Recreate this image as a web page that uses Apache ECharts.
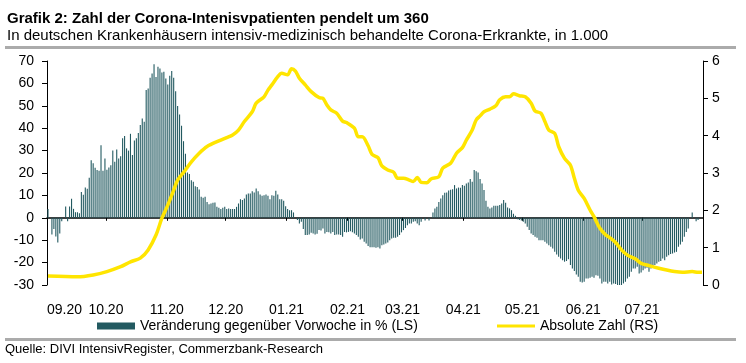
<!DOCTYPE html>
<html><head><meta charset="utf-8">
<script src="https://cdn.jsdelivr.net/npm/echarts@6/dist/echarts.min.js"></script>
<style>html,body{margin:0;padding:0;background:#fff}#c{width:746px;height:363px}</style>
</head><body><div id="c"></div>
<script>
const titleText = 'Grafik 2: Zahl der Corona-Intenisvpatienten pendelt um 360';
const subtitleText = 'In deutschen Krankenhäusern intensiv-medizinisch behandelte Corona-Erkrankte, in 1.000';
const sourceText = 'Quelle: DIVI IntensivRegister, Commerzbank-Research';
const barName = 'Veränderung gegenüber Vorwoche in % (LS)';
const lineName = 'Absolute Zahl (RS)';
const monthLabels = ['09.20','10.20','11.20','12.20','01.21','02.21','03.21','04.21','05.21','06.21','07.21'];
// daily values, first day = 01.09.2020
const barValues = [
3.9,0,-7.5,-5,-8.3,-11,-7,-1.5,0,5,
-1.5,5,8.5,4,2.5,2.5,2,11.5,10.3,13.5,
13,17.9,25.7,24.3,22.3,21.3,21,32.4,21,26.5,
21.5,22.5,23.5,30,25,30.5,26.5,27.5,35.5,36.5,
31,30,37.5,28,34.5,35.5,37.9,41.4,44.3,42.9,
57,57.7,62.5,64.4,68.5,62.9,67.4,66.7,64.9,65.2,
62.2,59.5,63.4,65.5,62.5,56.5,49.9,46.1,41.1,34.2,
28.6,20.2,19.6,16.8,16.1,14.1,13.8,12.6,9.4,8.9,
9.4,7.1,6.1,6.4,6.7,6.8,4.9,4.5,3.9,4.5,
4.9,3.9,4.2,3.9,3.9,3.9,4.9,6.4,8.3,7.9,
8.6,10.4,10.9,10.9,11.9,11.3,13.1,11.9,10.4,9.8,
10.1,10.4,9.8,8.3,10.1,9.8,12.1,10.4,8.3,8.3,
7.6,5.2,3.9,3.4,3.4,2.4,0,-1,-2.5,-1.8,
-5,-7.7,-7.7,-7.4,-6.7,-7,-7.4,-7.1,-5.4,-5.7,
-4.8,-7,-6.3,-6.5,-7,-6.3,-7.7,-7.4,-7.4,-7.7,
-8.5,-6.3,-6.5,-6.3,-6,-6.5,-7,-7.7,-8.5,-9.7,
-9.2,-10.7,-11.5,-12.6,-13.2,-13.2,-13.2,-13.4,-13.2,-13.7,
-12.2,-11.9,-11.5,-11,-10,-9.2,-8.9,-8.9,-8.5,-7.7,
-6.5,-5.5,-4.5,-3.3,-2.5,-2.5,-1.8,-1.5,-2.5,-3.3,
-1.8,0,-1.2,0,-1.2,0,2.4,4.2,4.9,7.1,
8.6,10.1,11.2,11.3,12.2,12.5,12.8,14.6,13.1,13.5,
13.4,14.6,14.3,15.3,15.8,17.3,16.1,21.3,20.8,20.2,
17.3,15.3,12.4,7.6,4.9,4.2,4.6,5.4,5.4,5.4,
5.7,6.4,7.9,6.7,4.6,4.2,3.4,1.8,0.9,-0.6,
-1,-1.2,-1.8,-2.5,-4,-5.5,-7,-7.7,-8.5,-8.9,
-10,-10,-10,-10.7,-11.5,-12.2,-12.9,-13.7,-15.2,-16.4,
-17.4,-18.2,-18.9,-19.6,-19.3,-18.5,-21.1,-22.6,-23.8,-25.3,
-26.3,-28.6,-28.9,-28.6,-27.1,-27.1,-26.8,-26.3,-26.8,-25.6,
-25.9,-27.1,-29.3,-28.6,-28.6,-29.3,-28.6,-29.8,-29.3,-29.5,
-30.1,-30.4,-30.8,-29.3,-28.6,-27.1,-26.3,-24.1,-22.6,-22.6,
-21.9,-24.9,-24.4,-23.4,-22.6,-22.3,-24.1,-22.6,-21.4,-21.1,
-20.4,-19.6,-19.3,-18.2,-18.9,-17.4,-16.7,-16.2,-15.9,-15.5,
-15.2,-12.9,-11.9,-10.7,-8.5,-6.3,-4.8,0,2.4,0,
-1.5,-1
];
// line: day index since 01.09.2020 and value in 1.000
const lineDays = [0,15,23,30,37,42,47,51,55,58,61,64,66,70,73,77,81,87,91,94,97,100,104,106,110,112,114,117,119,122,124,126,128,131,134,138,140,142,144,147,150,152,156,158,160,163,165,168,170,173,176,178,181,184,186,188,190,193,195,199,201,205,208,211,213,216,218,220,222,225,228,230,233,235,237,240,243,246,248,251,253,255,258,260,263,266,268,270,273,276,278,281,284,286,289,292,295,299,302,306,311,315,319,323,328,331,333];
const lineValues = [0.24,0.22,0.27,0.36,0.49,0.62,0.72,0.94,1.34,1.79,2.14,2.54,2.81,3.08,3.30,3.53,3.71,3.86,3.95,4.02,4.15,4.38,4.64,4.87,5.04,5.22,5.36,5.58,5.67,5.63,5.79,5.73,5.54,5.36,5.18,5.02,5.00,4.82,4.69,4.60,4.39,4.35,4.20,3.97,3.97,3.73,3.50,3.41,3.19,3.08,3.02,2.86,2.86,2.81,2.77,2.88,2.75,2.74,2.84,2.90,3.13,3.26,3.53,3.68,3.88,4.15,4.42,4.53,4.64,4.71,4.80,4.96,5.04,5.04,5.12,5.07,5.04,4.87,4.66,4.60,4.38,4.15,4.06,3.71,3.39,3.21,2.86,2.54,2.32,2.01,1.83,1.52,1.34,1.27,1.14,0.94,0.80,0.70,0.58,0.52,0.45,0.40,0.36,0.34,0.36,0.34,0.34];

const FONT = '"Liberation Sans", Arial, sans-serif';
const DAY = 86400000;
const origin = new Date(2020, 8, 1).getTime();
const monthStarts = monthLabels.map((_, k) => Math.round((new Date(2020, 8 + k, 1).getTime() - origin) / DAY));
const xMin = 0;
const xMax = Math.round((new Date(2021, 7, 1).getTime() - origin) / DAY);

const barData = barValues.map((v, i) => [i + 0.5, v]);
const lineData = lineDays.map((d, k) => [d + 0.5, lineValues[k]]);

const chart = echarts.init(document.getElementById('c'), null, {renderer: 'canvas'});
chart.setOption({
  animation: false,
  backgroundColor: '#fff',
  textStyle: {fontFamily: FONT},
  title: [
    {text: titleText, left: 7, top: 11, padding: 0, textStyle: {fontFamily: FONT, fontSize: 15, fontWeight: 'bold', color: '#000'}},
    {text: subtitleText, left: 7, top: 28, padding: 0, textStyle: {fontFamily: FONT, fontSize: 15, fontWeight: 'normal', color: '#000'}},
    {text: sourceText, left: 5, top: 343, padding: 0, textStyle: {fontFamily: FONT, fontSize: 13, fontWeight: 'normal', color: '#000'}}
  ],
  graphic: [
    {type: 'line', shape: {x1: 5, y1: 47.5, x2: 736, y2: 47.5}, style: {stroke: '#ababab', lineWidth: 3}},
    {type: 'line', shape: {x1: 5, y1: 339.5, x2: 736, y2: 339.5}, style: {stroke: '#ababab', lineWidth: 3}}
  ],
  legend: [
    {data: [{name: barName, icon: 'rect'}], left: 97, top: 319, padding: 0, itemWidth: 38, itemHeight: 7,
     textStyle: {fontFamily: FONT, fontSize: 14, color: '#000'}},
    {data: [{name: lineName, icon: 'path://M0 0H38V3H0Z'}], left: 497, top: 319, padding: 0, itemWidth: 38, itemHeight: 7,
     textStyle: {fontFamily: FONT, fontSize: 14, color: '#000'}}
  ],
  grid: {left: 47, right: 43, top: 61, bottom: 78, containLabel: false},
  xAxis: [
    {type: 'value', min: xMin, max: xMax, position: 'bottom',
     axisLine: {show: false, onZero: false}, axisTick: {show: false}, splitLine: {show: false},
     axisLabel: {show: true, customValues: monthStarts, margin: 18, fontFamily: FONT, fontSize: 14, color: '#000',
       rich: {first: {fontFamily: FONT, fontSize: 14, color: '#000', padding: [0, 0, 0, 35]}},
       formatter: function (v) {
         const k = monthStarts.indexOf(Math.round(v));
         if (k < 0) return '';
         return k === 0 ? '{first|' + monthLabels[k] + '}' : monthLabels[k];
       }}},
    {type: 'value', min: xMin, max: xMax, position: 'bottom',
     axisLine: {show: true, onZero: true, onZeroAxisIndex: 0, lineStyle: {color: '#000', width: 1.5}},
     axisTick: {show: true, customValues: monthStarts, length: 3, lineStyle: {color: '#000', width: 1}},
     axisLabel: {show: false}, splitLine: {show: false}}
  ],
  yAxis: [
    {type: 'value', min: -30, max: 70, interval: 10, position: 'left',
     axisLine: {show: true, onZero: false, lineStyle: {color: '#000', width: 1}},
     axisTick: {show: true, length: 5, lineStyle: {color: '#000'}},
     splitLine: {show: false},
     axisLabel: {margin: 13, fontFamily: FONT, fontSize: 14, color: '#000'}},
    {type: 'value', min: 0, max: 6, interval: 1, position: 'right',
     axisLine: {show: true, onZero: false, lineStyle: {color: '#000', width: 1}},
     axisTick: {show: true, length: 5, lineStyle: {color: '#000'}},
     splitLine: {show: false},
     axisLabel: {margin: 9, fontFamily: FONT, fontSize: 14, color: '#000'}}
  ],
  series: [
    {name: barName, type: 'bar', xAxisIndex: 0, yAxisIndex: 0, data: barData, barWidth: 1.1,
     itemStyle: {color: '#235a61'}, emphasis: {disabled: true}},
    {name: lineName, type: 'line', xAxisIndex: 0, yAxisIndex: 1, data: lineData, smooth: 0.3,
     showSymbol: false, symbol: 'none', lineStyle: {color: '#FFE500', width: 3.5}, itemStyle: {color: '#FFE500'},
     emphasis: {disabled: true}, z: 5}
  ]
});
</script></body></html>
